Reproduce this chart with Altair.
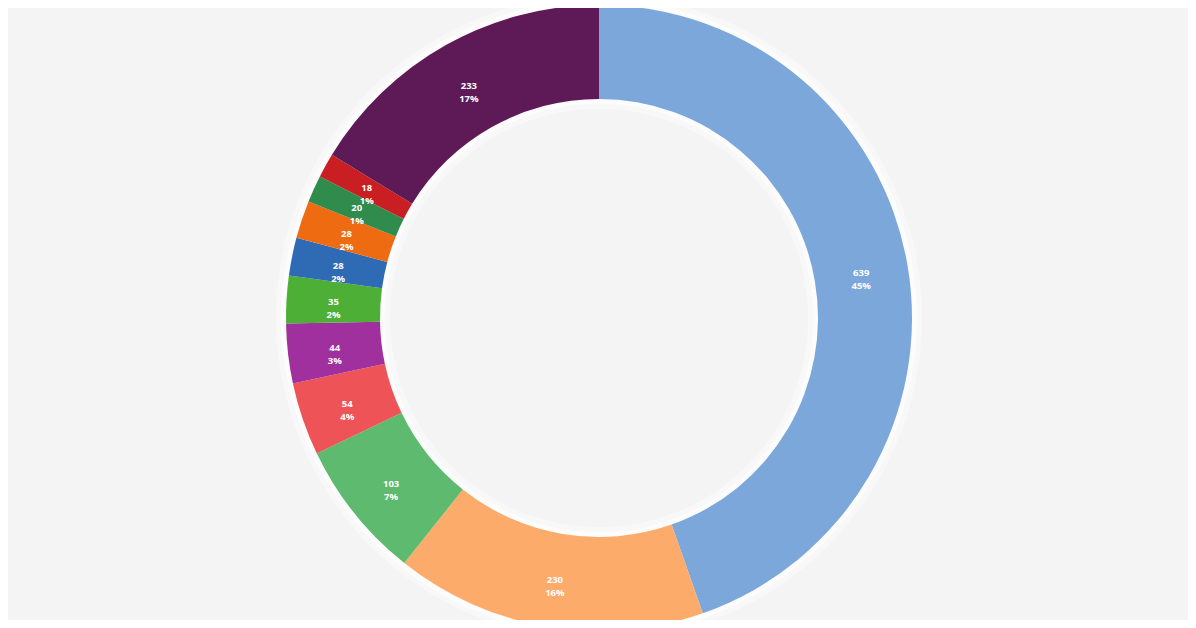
import altair as alt
import pandas as pd

values = [639, 230, 103, 54, 44, 35, 28, 28, 20, 18, 233]
pcts = ["45%", "16%", "7%", "4%", "3%", "2%", "2%", "2%", "1%", "1%", "17%"]
names = ["A", "B", "C", "D", "E", "F", "G", "H", "I", "J", "K"]
colors = ["#7BA7DA", "#FDAB6B", "#5DBA6E", "#EE5457", "#A0309E", "#4DAF36",
          "#2E6BB4", "#EE6B12", "#2F8C4C", "#C91F22", "#5E1A57"]

df = pd.DataFrame({
    "name": names,
    "value": values,
    "idx": list(range(len(values))),
    "label": [f"{v}\n{p}" for v, p in zip(values, pcts)],
})

CX, CY = 591, 310
R_OUT, R_IN = 313, 219

base = alt.Chart(df).encode(
    theta=alt.Theta("value:Q", stack=True),
    order=alt.Order("idx:Q"),
    x=alt.value(CX),
    y=alt.value(CY),
)

halo_df = pd.DataFrame({"v": [1]})
halo1 = alt.Chart(halo_df).mark_arc(
    radius=R_OUT + 10, radius2=R_IN - 10, color="#FFFFFF", opacity=0.35
).encode(theta=alt.Theta("v:Q", stack=True), x=alt.value(CX), y=alt.value(CY))
halo2 = alt.Chart(halo_df).mark_arc(
    radius=R_OUT + 5, radius2=R_IN - 5, color="#FFFFFF", opacity=0.5
).encode(theta=alt.Theta("v:Q", stack=True), x=alt.value(CX), y=alt.value(CY))

arcs = base.mark_arc(radius=R_OUT, radius2=R_IN).encode(
    color=alt.Color("name:N", scale=alt.Scale(domain=names, range=colors), legend=None)
)

texts = base.mark_text(
    radius=(R_OUT + R_IN) / 2, color="white", fontSize=9.5, fontWeight="bold",
    lineBreak="\n", font="Open Sans", lineHeight=13
).encode(text="label:N")

donut = alt.layer(arcs, texts)

chart = alt.layer(halo1, halo2, donut).resolve_scale(theta="independent").properties(
    width=1180, height=612, autosize="none", padding=0, background="#F4F4F4"
).configure_view(stroke=None)

chart.save("out.html", embed_options={"renderer": "svg", "actions": False})
